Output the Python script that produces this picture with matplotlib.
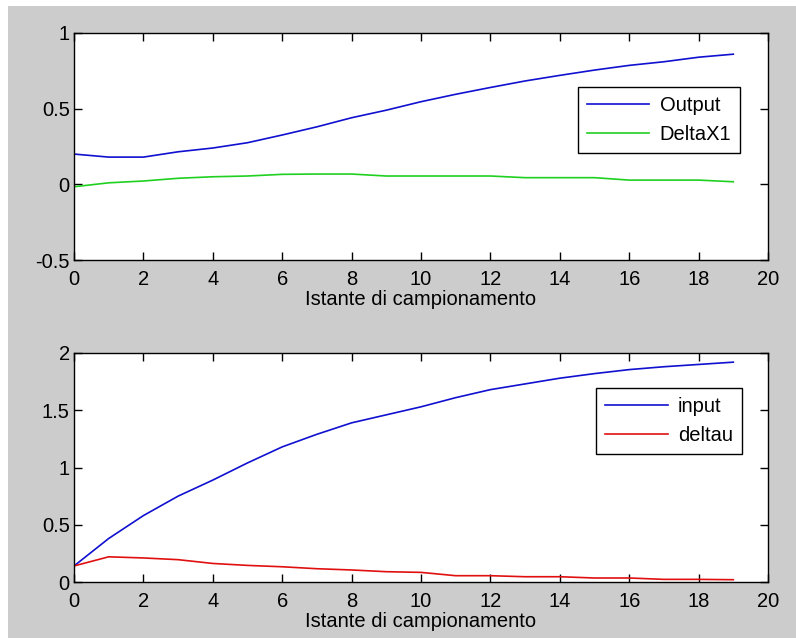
import numpy as np
import matplotlib.pyplot as plt
from matplotlib.patches import Rectangle

plt.rcParams['font.family'] = ['Liberation Sans', 'DejaVu Sans']

# Sample instants
k = np.arange(20)

# Top plot
output = [0.20, 0.18, 0.18, 0.215, 0.24, 0.275, 0.326, 0.38, 0.44, 0.49,
          0.546, 0.595, 0.64, 0.683, 0.72, 0.755, 0.786, 0.81, 0.84, 0.86]
deltax1 = [-0.016, 0.01, 0.022, 0.04, 0.05, 0.055, 0.066, 0.068, 0.068, 0.055,
           0.055, 0.055, 0.055, 0.044, 0.044, 0.044, 0.028, 0.028, 0.028, 0.017]

# Bottom plot
inp = [0.14, 0.38, 0.58, 0.75, 0.89, 1.04, 1.18, 1.29, 1.39, 1.46,
       1.53, 1.61, 1.68, 1.73, 1.78, 1.82, 1.855, 1.88, 1.90, 1.92]
deltau = [0.14, 0.22, 0.21, 0.195, 0.162, 0.145, 0.133, 0.116, 0.105, 0.09,
          0.084, 0.055, 0.055, 0.046, 0.046, 0.035, 0.035, 0.023, 0.023, 0.02]

fig = plt.figure(figsize=(7.96, 6.38), dpi=100, facecolor='white')
# gray matlab-like window area
fig.patches.append(Rectangle((8/796, 0), 1, 1 - 6/638, transform=fig.transFigure,
                             facecolor='#cccccc', edgecolor='none', zorder=-10))

fs = 14.5
ax1 = fig.add_axes([74/796, 1 - 260/638, 694/796, 227/638])
ax2 = fig.add_axes([74/796, 1 - 582/638, 694/796, 229/638])

ax1.plot(k, output, color='#1010d0', lw=1.2, label='Output')
ax1.plot(k, deltax1, color='#20d020', lw=1.2, label='DeltaX1')
ax1.set_ylim(-0.5, 1)
ax1.set_yticks([-0.5, 0, 0.5, 1])
ax1.set_yticklabels(['-0.5', '0', '0.5', '1'])

ax2.plot(k, inp, color='#1010d0', lw=1.2, label='input')
ax2.plot(k, deltau, color='#e01010', lw=1.2, label='deltau')
ax2.set_ylim(0, 2)
ax2.set_yticks([0, 0.5, 1, 1.5, 2])
ax2.set_yticklabels(['0', '0.5', '1', '1.5', '2'])

for ax in (ax1, ax2):
    ax.set_xlim(0, 20)
    ax.set_xticks(range(0, 21, 2))
    ax.set_facecolor('white')
    ax.tick_params(direction='in', top=True, right=True, length=6, width=1,
                   labelsize=fs)
    ax.tick_params(axis='x', pad=7)
    ax.tick_params(axis='y', pad=3)
    for s in ax.spines.values():
        s.set_linewidth(1)
    ax.set_xlabel('Istante di campionamento', fontsize=fs, labelpad=1)

leg1 = ax1.legend(loc='upper right', bbox_to_anchor=(0.96, 0.762), fontsize=fs,
                  fancybox=False, edgecolor='black', framealpha=1,
                  handlelength=3.1, handletextpad=0.5, borderaxespad=0,
                  labelspacing=0.5, borderpad=0.45)
leg1.get_frame().set_linewidth(1)
leg2 = ax2.legend(loc='upper right', bbox_to_anchor=(0.9625, 0.847), fontsize=fs,
                  fancybox=False, edgecolor='black', framealpha=1,
                  handlelength=3.1, handletextpad=0.5, borderaxespad=0,
                  labelspacing=0.5, borderpad=0.45)
leg2.get_frame().set_linewidth(1)

fig.savefig('out.png', dpi=100, facecolor=fig.get_facecolor())
